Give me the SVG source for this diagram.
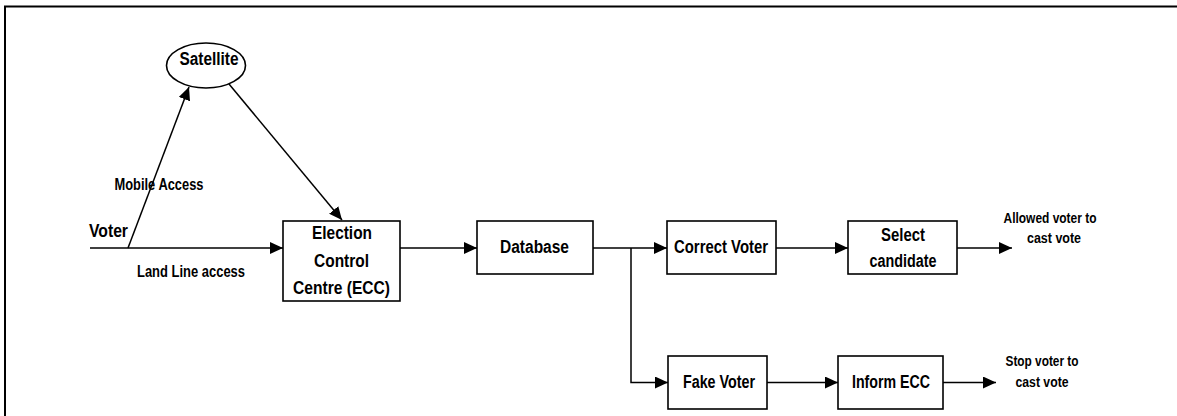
<svg xmlns="http://www.w3.org/2000/svg" width="1177" height="416" viewBox="0 0 1177 416">
  <style>
    .box { fill: #fff; stroke: #000; stroke-width: 1.6; }
    .line { fill: none; stroke: #000; stroke-width: 1.5; }
    .frame { fill: none; stroke: #000; stroke-width: 2; }
    text { font-family: "Liberation Sans", Arial, sans-serif; font-weight: bold; fill: #000; text-anchor: middle; }
    .t18 { font-size: 18px; }
    .t17 { font-size: 16.5px; }
    .t14 { font-size: 14px; }
  </style>
  <defs>
    <marker id="arrow" markerUnits="userSpaceOnUse" markerWidth="14" markerHeight="12" refX="13" refY="6" orient="auto">
      <path d="M0,0 L13,6 L0,12 Z" fill="#000"/>
    </marker>
  </defs>

  <rect width="1177" height="416" fill="#fff"/>

  <!-- page frame -->
  <path class="frame" d="M5,416 V6.5 H1177"/>

  <!-- connectors -->
  <g id="connectors">
    <line class="line" x1="90" y1="248" x2="283" y2="248" marker-end="url(#arrow)"/>
    <line class="line" x1="128" y1="248" x2="189" y2="87" marker-end="url(#arrow)"/>
    <line class="line" x1="229" y1="84" x2="342" y2="220" marker-end="url(#arrow)"/>
    <line class="line" x1="400" y1="248" x2="477" y2="248" marker-end="url(#arrow)"/>
    <line class="line" x1="593" y1="248" x2="667" y2="248" marker-end="url(#arrow)"/>
    <polyline class="line" points="631,248 631,382.5 668,382.5" marker-end="url(#arrow)"/>
    <line class="line" x1="776" y1="248" x2="848" y2="248" marker-end="url(#arrow)"/>
    <line class="line" x1="957" y1="248" x2="1012" y2="248" marker-end="url(#arrow)"/>
    <line class="line" x1="767" y1="382.5" x2="838" y2="382.5" marker-end="url(#arrow)"/>
    <line class="line" x1="943" y1="382.5" x2="996" y2="382.5" marker-end="url(#arrow)"/>
    <text class="t17" x="159" y="190" textLength="89" lengthAdjust="spacingAndGlyphs">Mobile Access</text>
    <text class="t17" x="191" y="277" textLength="108" lengthAdjust="spacingAndGlyphs">Land Line access</text>
  </g>

  <g id="voter">
    <text style="font-size:19px" x="108.5" y="237" textLength="39" lengthAdjust="spacingAndGlyphs">Voter</text>
  </g>

  <g id="satellite">
    <ellipse class="box" cx="206" cy="65.5" rx="39.5" ry="22.5"/>
    <text class="t18" x="209" y="64.5" textLength="59" lengthAdjust="spacingAndGlyphs">Satellite</text>
  </g>

  <g id="ecc">
    <rect class="box" x="283" y="221" width="117" height="80"/>
    <text class="t18" x="342" y="239.3" textLength="60" lengthAdjust="spacingAndGlyphs">Election</text>
    <text class="t18" x="341.5" y="266.7" textLength="55" lengthAdjust="spacingAndGlyphs">Control</text>
    <text class="t18" x="341.5" y="294" textLength="97" lengthAdjust="spacingAndGlyphs">Centre (ECC)</text>
  </g>

  <g id="database">
    <rect class="box" x="477" y="221" width="116" height="53"/>
    <text class="t18" x="534.5" y="253.3" textLength="69" lengthAdjust="spacingAndGlyphs">Database</text>
  </g>

  <g id="correct-voter">
    <rect class="box" x="667" y="221" width="109" height="53"/>
    <text class="t18" x="721" y="253.3" textLength="94" lengthAdjust="spacingAndGlyphs">Correct Voter</text>
  </g>

  <g id="select-candidate">
    <rect class="box" x="848" y="221" width="109" height="53"/>
    <text class="t18" x="903" y="240.7" textLength="44" lengthAdjust="spacingAndGlyphs">Select</text>
    <text class="t18" x="903" y="266.7" textLength="67" lengthAdjust="spacingAndGlyphs">candidate</text>
  </g>

  <g id="allowed">
    <text class="t14" x="1050" y="222.7" textLength="93" lengthAdjust="spacingAndGlyphs">Allowed voter to</text>
    <text class="t14" x="1054" y="242.7" textLength="54" lengthAdjust="spacingAndGlyphs">cast vote</text>
  </g>

  <g id="fake-voter">
    <rect class="box" x="668" y="356" width="99" height="53"/>
    <text class="t18" x="719" y="388.3" textLength="72" lengthAdjust="spacingAndGlyphs">Fake Voter</text>
  </g>

  <g id="inform-ecc">
    <rect class="box" x="838" y="356" width="105" height="53"/>
    <text class="t18" x="891" y="388.3" textLength="78" lengthAdjust="spacingAndGlyphs">Inform ECC</text>
  </g>

  <g id="stop">
    <text class="t14" x="1042" y="365.5" textLength="73" lengthAdjust="spacingAndGlyphs">Stop voter to</text>
    <text class="t14" x="1042" y="386.7" textLength="53" lengthAdjust="spacingAndGlyphs">cast vote</text>
  </g>
</svg>
